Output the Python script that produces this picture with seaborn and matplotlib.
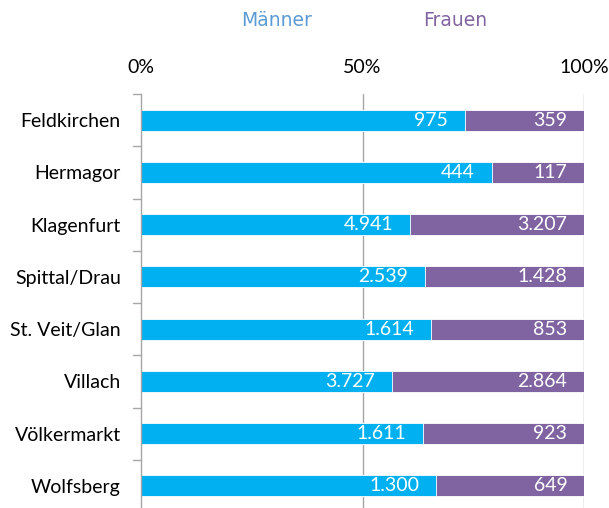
import matplotlib
matplotlib.use("Agg")
import matplotlib.pyplot as plt
import seaborn as sns
import pandas as pd

bezirke = ["Feldkirchen", "Hermagor", "Klagenfurt", "Spittal/Drau",
           "St. Veit/Glan", "Villach", "Völkermarkt", "Wolfsberg"]
maenner = [975, 444, 4941, 2539, 1614, 3727, 1611, 1300]
frauen = [359, 117, 3207, 1428, 853, 2864, 923, 649]
tick_vals = [0, 0.5, 1.0]
tick_labels = ["0%", "50%", "100%"]

df = pd.DataFrame({"Bezirk": bezirke, "Männer": maenner, "Frauen": frauen})
df["total"] = df["Männer"] + df["Frauen"]
df["m_share"] = df["Männer"] / df["total"]
df["all_share"] = 1.0

sns.set_theme(style="white")
plt.rcParams["font.family"] = ["Lato", "DejaVu Sans"]

fig = plt.figure(figsize=(6.09, 5.08), dpi=100)
ax = fig.add_axes([141 / 609, (508 - 512) / 508, (584 - 141) / 609, 418 / 508])

c_m = "#00B0F0"
c_f = "#8064A2"

sns.barplot(data=df, y="Bezirk", x="all_share", color=c_f, orient="h",
            width=0.4, ax=ax, edgecolor="white", linewidth=0.6, saturation=1)
sns.barplot(data=df, y="Bezirk", x="m_share", color=c_m, orient="h",
            width=0.4, ax=ax, edgecolor="white", linewidth=0.6, saturation=1)

def fmt(v):
    return f"{v:,}".replace(",", ".")

for i, row in df.iterrows():
    ax.annotate(fmt(row["Männer"]), xy=(row["m_share"], i), xytext=(-12, 0),
                textcoords="offset points", ha="right", va="center",
                color="white", fontsize=14)
    ax.annotate(fmt(row["Frauen"]), xy=(1.0, i), xytext=(-12, 0),
                textcoords="offset points", ha="right", va="center",
                color="white", fontsize=14)

ax.set_xlim(0, 1)
ax.set_ylim(len(bezirke) - 0.5, -0.5)
ax.xaxis.tick_top()
ax.set_xticks(tick_vals)
ax.set_xticklabels(tick_labels, fontsize=14, color="#000000")
ax.tick_params(axis="x", length=0, pad=13)
for v in tick_vals[1:]:
    ax.axvline(v, color="#A6A6A6", lw=1.0, zorder=0)

ax.set_yticks(range(len(bezirke)))
ax.set_yticklabels(bezirke, fontsize=14, color="#000000")
ax.tick_params(axis="y", length=0, pad=14.5)
for b in [i - 0.5 for i in range(len(bezirke) + 1)]:
    ax.plot([-0.018, 0], [b, b], color="#A6A6A6", lw=1.0, clip_on=False,
            transform=ax.transData)

for s in ["top", "right", "bottom"]:
    ax.spines[s].set_visible(False)
ax.spines["left"].set_color("#A6A6A6")
ax.spines["left"].set_linewidth(1.0)
ax.set_xlabel("")
ax.set_ylabel("")

fig.text(277 / 609, 1 - 21 / 508, "Männer", color="#5B9BD5", fontsize=13.5,
         ha="center", va="center", family=["DejaVu Sans"])
fig.text(455 / 609, 1 - 21 / 508, "Frauen", color="#8064A2", fontsize=13.5,
         ha="center", va="center", family=["DejaVu Sans"])

fig.savefig("out.png", dpi=100)
